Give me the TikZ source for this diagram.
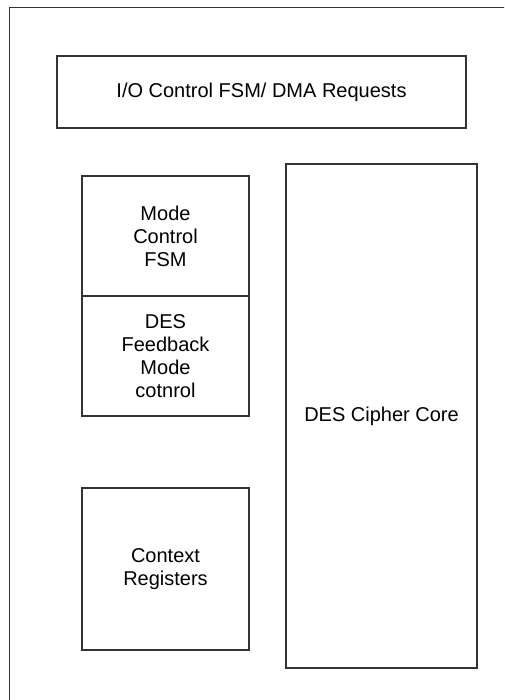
\documentclass[tikz,border=0pt]{standalone}
\usepackage{fontspec}
\setmainfont{Liberation Sans}

\begin{document}
\begin{tikzpicture}[x=1pt,y=-1pt,
  bx/.style={draw=black!80,line width=1.2pt,inner sep=0pt,align=center,
    font=\fontsize{20}{23}\selectfont}]
\useasboundingbox (0,0) rectangle (504,700);
\clip (0,0) rectangle (504,700);

% outer frame (cut off at right and bottom)
\node[bx,minimum width=520pt,minimum height=720pt,anchor=north west] (frame) at (9,7) {};

% I/O control
\node[bx,minimum width=409pt,minimum height=72pt] (io) at (261.5,92) {I/O Control FSM/ DMA Requests};

% mode control and feedback mode
\node[bx,minimum width=167pt,minimum height=120pt] (mode) at (165.5,236) {Mode\\Control\\FSM};
\node[bx,minimum width=167pt,minimum height=120pt] (fb) at (165.5,356) {DES\\Feedback\\Mode\\cotnrol};

% context registers
\node[bx,minimum width=167pt,minimum height=162pt] (ctx) at (165.5,569) {Context\\Registers};

% cipher core
\node[bx,minimum width=191pt,minimum height=504pt] (core) at (381.5,416) {DES Cipher Core};
\end{tikzpicture}
\end{document}
